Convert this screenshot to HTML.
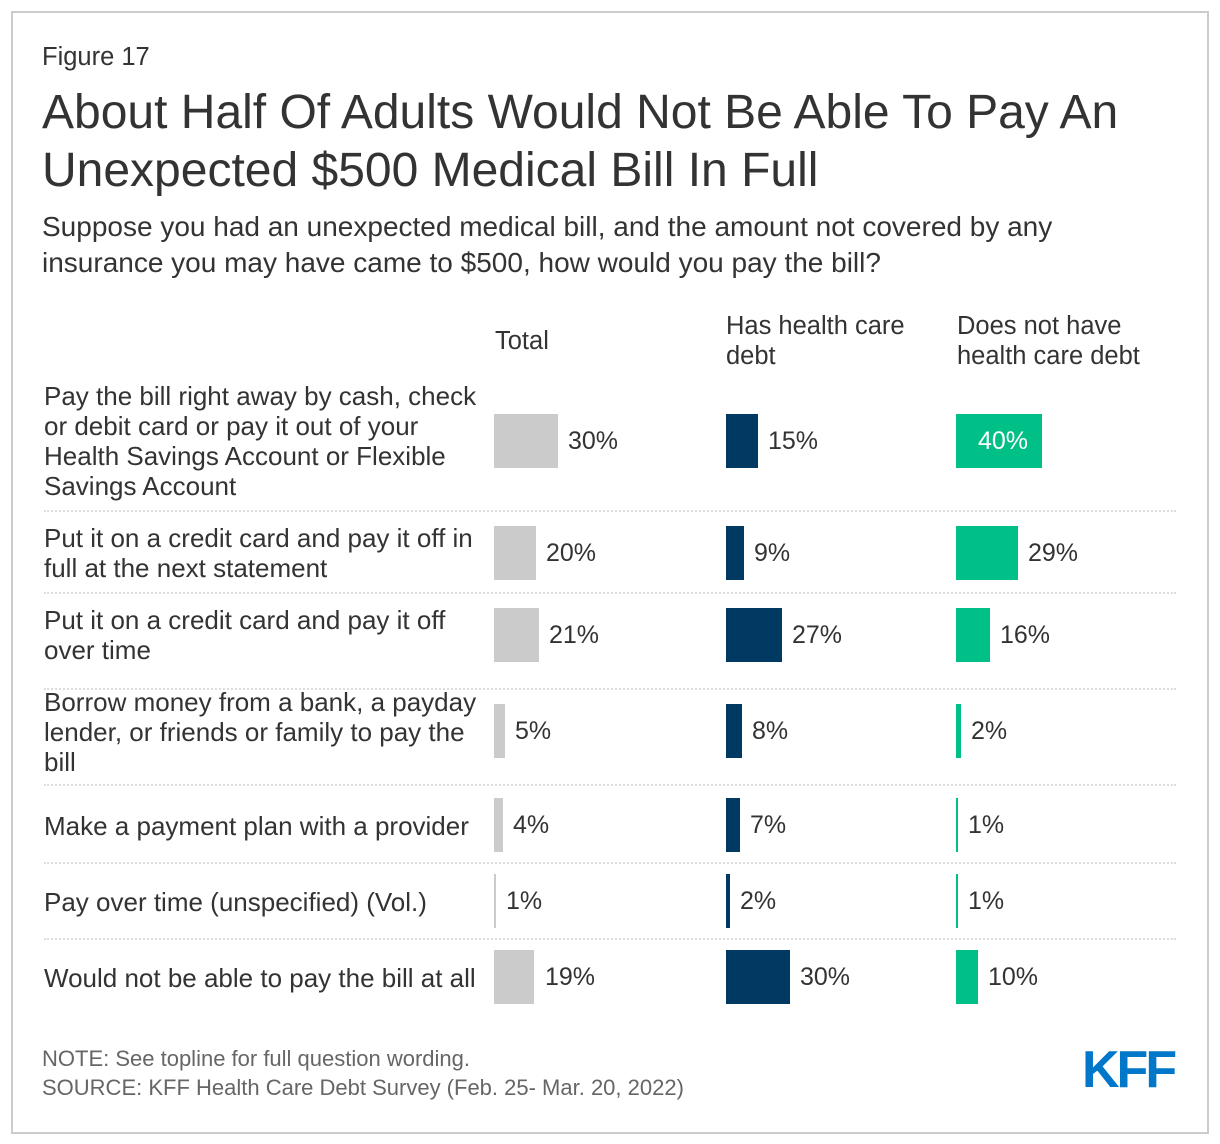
<!DOCTYPE html>
<html><head><meta charset="utf-8"><style>
*{margin:0;padding:0;box-sizing:border-box}
body{width:1220px;height:1144px;background:#fff;font-family:"Liberation Sans",sans-serif;color:#333;position:relative;overflow:hidden}
.frame{position:absolute;left:11px;top:11px;width:1198px;height:1123px;border:2px solid #ccc}
.a{position:absolute;white-space:nowrap}
.lbl{position:absolute;left:44px;font-size:26px;line-height:30px;color:#333;white-space:nowrap}
.bar{position:absolute;height:54px}
.g{background:#cbcbcb}.n{background:#003a63}.t{background:#00bf87}
.v{position:absolute;font-size:25px;line-height:54px;color:#333}
.sep{position:absolute;left:44px;width:1132px;border-top:2px dotted #ddd;height:0}
</style></head><body>
<div class="frame"></div>
<div class="a" style="left:42px;top:43px;font-size:25.5px">Figure 17</div>
<div class="a" style="left:42px;top:84px;font-size:48px;line-height:58px;color:#333">About Half Of Adults Would Not Be Able To Pay An<br>Unexpected $500 Medical Bill In Full</div>
<div class="a" style="left:42px;top:209px;font-size:28px;line-height:36px">Suppose you had an unexpected medical bill, and the amount not covered by any<br>insurance you may have came to $500, how would you pay the bill?</div>
<div class="a" style="left:495px;top:326px;font-size:25.5px;line-height:30px">Total</div>
<div class="a" style="left:726px;top:311px;font-size:25.5px;line-height:30px">Has health care<br>debt</div>
<div class="a" style="left:957px;top:311px;font-size:25.5px;line-height:30px">Does not have<br>health care debt</div>

<div class="lbl" style="top:381px">Pay the bill right away by cash, check<br>or debit card or pay it out of your<br>Health Savings Account or Flexible<br>Savings Account</div>
<div class="lbl" style="top:523px">Put it on a credit card and pay it off in<br>full at the next statement</div>
<div class="lbl" style="top:605px">Put it on a credit card and pay it off<br>over time</div>
<div class="lbl" style="top:687px">Borrow money from a bank, a payday<br>lender, or friends or family to pay the<br>bill</div>
<div class="lbl" style="top:811px">Make a payment plan with a provider</div>
<div class="lbl" style="top:887px">Pay over time (unspecified) (Vol.)</div>
<div class="lbl" style="top:963px">Would not be able to pay the bill at all</div>

<div class="sep" style="top:510px"></div>
<div class="sep" style="top:592px"></div>
<div class="sep" style="top:688px"></div>
<div class="sep" style="top:784px"></div>
<div class="sep" style="top:862px"></div>
<div class="sep" style="top:938px"></div>

<div class="bar g" style="left:494px;top:414px;width:64px"></div><div class="v" style="left:568px;top:414px">30%</div>
<div class="bar n" style="left:726px;top:414px;width:32px"></div><div class="v" style="left:768px;top:414px">15%</div>
<div class="bar t" style="left:956px;top:414px;width:86px"></div><div class="v" style="left:978px;top:414px;color:#fff">40%</div>
<div class="bar g" style="left:494px;top:526px;width:42px"></div><div class="v" style="left:546px;top:526px">20%</div>
<div class="bar n" style="left:726px;top:526px;width:18px"></div><div class="v" style="left:754px;top:526px">9%</div>
<div class="bar t" style="left:956px;top:526px;width:62px"></div><div class="v" style="left:1028px;top:526px">29%</div>
<div class="bar g" style="left:494px;top:608px;width:45px"></div><div class="v" style="left:549px;top:608px">21%</div>
<div class="bar n" style="left:726px;top:608px;width:56px"></div><div class="v" style="left:792px;top:608px">27%</div>
<div class="bar t" style="left:956px;top:608px;width:34px"></div><div class="v" style="left:1000px;top:608px">16%</div>
<div class="bar g" style="left:494px;top:704px;width:11px"></div><div class="v" style="left:515px;top:704px">5%</div>
<div class="bar n" style="left:726px;top:704px;width:16px"></div><div class="v" style="left:752px;top:704px">8%</div>
<div class="bar t" style="left:956px;top:704px;width:5px"></div><div class="v" style="left:971px;top:704px">2%</div>
<div class="bar g" style="left:494px;top:798px;width:9px"></div><div class="v" style="left:513px;top:798px">4%</div>
<div class="bar n" style="left:726px;top:798px;width:14px"></div><div class="v" style="left:750px;top:798px">7%</div>
<div class="bar t" style="left:956px;top:798px;width:2px"></div><div class="v" style="left:968px;top:798px">1%</div>
<div class="bar g" style="left:494px;top:874px;width:2px"></div><div class="v" style="left:506px;top:874px">1%</div>
<div class="bar n" style="left:726px;top:874px;width:4px"></div><div class="v" style="left:740px;top:874px">2%</div>
<div class="bar t" style="left:956px;top:874px;width:2px"></div><div class="v" style="left:968px;top:874px">1%</div>
<div class="bar g" style="left:494px;top:950px;width:40px"></div><div class="v" style="left:545px;top:950px">19%</div>
<div class="bar n" style="left:726px;top:950px;width:64px"></div><div class="v" style="left:800px;top:950px">30%</div>
<div class="bar t" style="left:956px;top:950px;width:22px"></div><div class="v" style="left:988px;top:950px">10%</div>

<div class="a" style="left:42px;top:1044px;font-size:22px;color:#666;line-height:29px">NOTE: See topline for full question wording.<br>SOURCE: KFF Health Care Debt Survey (Feb. 25- Mar. 20, 2022)</div>
<div class="a" style="left:1082px;top:1040px;font-size:52px;font-weight:bold;color:#0077c8;letter-spacing:-3px;line-height:60px">KFF</div>
</body></html>
